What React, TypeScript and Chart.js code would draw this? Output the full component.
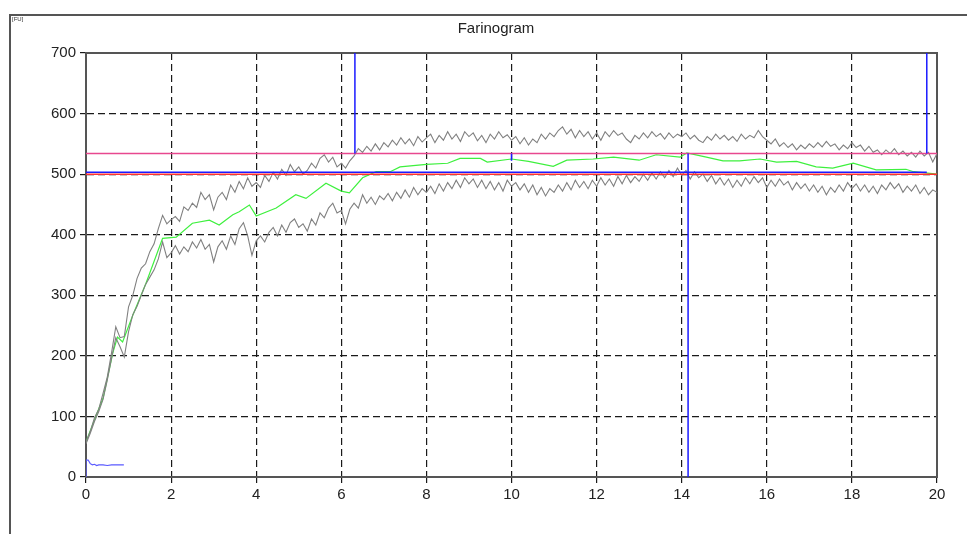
import React, { useEffect, useRef } from "react";
import { Chart, registerables } from "chart.js";

Chart.register(...registerables);

// ---- Data ----
const chartTitle = "Farinogram";
const unitLabel = "[FU]";
const xTicks = [0, 2, 4, 6, 8, 10, 12, 14, 16, 18, 20];
const yTicks = [0, 100, 200, 300, 400, 500, 600, 700];
const sampleStep = 0.1; // minutes between samples of the band curves

// upper envelope (gray), one value per 0.1 min, 0..20
const upperCurve = [
  58, 75, 98, 112, 138, 165, 205, 248, 230, 232,
  281, 300, 328, 345, 352, 372, 385, 410, 432, 418,
  425, 430, 422, 446, 440, 452, 445, 470, 458, 466,
  441, 462, 470, 458, 482, 470, 488, 476, 494, 480,
  486, 478, 498, 488, 503, 492, 508, 498, 516, 504,
  512, 500, 506, 518, 510, 526, 532, 520, 528, 512,
  518, 510, 522, 530, 542, 536, 546, 538, 550, 540,
  552, 545, 556, 548, 560, 550, 558, 547, 562, 553,
  560, 566, 552, 564, 556, 570, 558, 566, 554, 570,
  562, 568, 555, 564, 552, 566, 558, 570, 560, 565,
  556, 562, 550, 560, 548, 558, 552, 566, 558, 568,
  562, 572, 578, 566, 574, 560, 572, 562, 570, 558,
  568, 556, 570, 562, 572, 564, 568, 558, 552, 564,
  558, 568, 560, 570, 562, 567, 558, 568, 560, 566,
  562, 568, 558, 564, 556, 552, 562, 556, 566, 558,
  564, 556, 562, 554, 566, 558, 564, 560, 572, 562,
  556, 550, 558, 546, 552, 544, 550, 540, 548, 542,
  550, 544, 552, 545, 554, 546, 550, 540, 548, 542,
  552, 544, 548, 538, 546, 536, 540, 532, 540, 534,
  542, 532, 538, 530, 536, 528, 538, 530, 536, 520,
  534,
];

// lower envelope (gray)
const lowerCurve = [
  55, 72, 92, 108, 128, 160, 196, 230, 215, 198,
  240, 268, 282, 300, 318, 330, 342, 360, 388, 362,
  370, 382, 368, 380, 372, 388, 378, 392, 376, 384,
  355, 380, 390, 376, 398, 384, 410, 420, 398, 366,
  390, 398, 388, 404, 412, 398, 416, 404, 420, 426,
  412, 418, 406, 426, 416, 436, 428, 444, 452, 436,
  440, 418, 442, 452, 444, 466, 452, 462, 450, 464,
  458, 468, 456, 470, 460, 474, 462, 478, 466, 476,
  470, 480, 468, 484, 472, 486, 476, 490, 478, 494,
  484, 492, 478, 490, 476, 488, 474, 486, 472, 490,
  480, 486, 474, 484, 470, 482, 466, 478, 464, 476,
  470, 482, 472, 486, 474, 490, 478, 488, 476, 490,
  480, 494, 482, 492, 480, 496, 484, 498, 486, 496,
  488, 500, 490, 502, 492, 504, 494, 506, 496, 510,
  498, 506, 492, 504, 494, 500, 488, 498, 484, 494,
  482, 492, 478, 490, 480, 494, 484, 496, 486, 494,
  478, 490, 480, 492, 482, 488, 474, 486, 476, 484,
  472, 482, 470, 480, 466, 478, 470, 482, 472, 486,
  476, 484, 472, 482, 470, 480, 468, 482, 474, 486,
  476, 484, 470, 480, 472, 482, 468, 478, 466, 474,
  470,
];

// median curve (green)
const medianX = [
  0, 0.23, 0.4, 0.63, 0.74, 0.86, 1.1, 1.41, 1.8, 2.12, 2.5, 2.9, 3.13, 3.45,
  3.6, 3.84, 4.0, 4.47, 4.93, 5.17, 5.64, 6.0, 6.19, 6.5, 6.82, 7.15, 7.38,
  8.0, 8.5, 8.79, 9.27, 9.43, 10.0, 10.4, 10.98, 11.3, 11.92, 12.4, 13.0,
  13.4, 13.96, 14.12, 14.58, 14.97, 15.36, 15.84, 16.23, 16.7, 17.16, 17.55,
  18.03, 18.57, 19.27, 19.45, 20,
];
const medianY = [
  58, 100, 130, 205, 231, 223, 267, 320, 394, 396, 419, 424, 416, 433,
  438, 449, 431, 444, 466, 460, 485, 472, 469, 494, 504, 504, 512,
  516, 518, 526, 526, 520, 525, 521, 513, 523, 525, 528, 523,
  532, 528, 535, 528, 522, 522, 525, 520, 521, 512, 510,
  518, 507, 508, 504, 500,
];

// reference levels and markers
const consistencyLine = 500; // red
const bandLine = 503; // blue horizontal
const bandLineEnd = 19.76;
const upperBandLine = 534; // pink
const arrivalTime = 6.32;
const stabilityEndTime = 14.15;
const departureTime = 19.76;
const midMarkX = 10;
const midMarkY = [534, 522];

// small trace near origin (blue)
const startTraceX = [0, 0, 0.05, 0.1, 0.15, 0.2, 0.25, 0.3, 0.4, 0.5, 0.6, 0.7, 0.89];
const startTraceY = [0, 28, 28, 22, 20, 21, 19, 20, 20, 19, 20, 20, 20];

const X_MIN = 0;
const X_MAX = 20;
const Y_MIN = 0;
const Y_MAX = 700;

const FONT = "Arial, 'Liberation Sans', sans-serif";

function toPoints(xs: number[], ys: number[]) {
  return xs.map((x, i) => ({ x, y: ys[i] }));
}
function sampled(values: number[]) {
  return values.map((y, i) => ({ x: Math.round(i * sampleStep * 100) / 100, y }));
}

const framePlugin = {
  id: "frame",
  beforeDraw(chart: any) {
    const ctx = chart.ctx;
    ctx.save();
    ctx.fillStyle = "#ffffff";
    ctx.fillRect(0, 0, chart.width, chart.height);
    ctx.strokeStyle = "#555555";
    ctx.lineWidth = 2;
    ctx.beginPath();
    ctx.moveTo(chart.width, 15);
    ctx.lineTo(10, 15);
    ctx.lineTo(10, chart.height);
    ctx.stroke();
    ctx.fillStyle = "#333333";
    ctx.font = "6px " + FONT;
    ctx.textBaseline = "top";
    ctx.textAlign = "left";
    ctx.fillText(unitLabel, 12, 16);
    ctx.fillStyle = "#222222";
    ctx.font = "15px " + FONT;
    ctx.textAlign = "center";
    ctx.textBaseline = "middle";
    ctx.fillText(chartTitle, 496, 29);
    ctx.restore();
  },
  beforeDatasetsDraw(chart: any) {
    const { ctx, chartArea } = chart;
    ctx.save();
    ctx.strokeStyle = "#555555";
    ctx.lineWidth = 2;
    ctx.strokeRect(chartArea.left, chartArea.top, chartArea.right - chartArea.left, chartArea.bottom - chartArea.top);
    ctx.restore();
  },
};

export default function App() {
  const canvasRef = useRef<HTMLCanvasElement | null>(null);

  useEffect(() => {
    document.body.style.margin = "0";
    const canvas = canvasRef.current;
    if (!canvas) return;

    const seg = (xs: number[], ys: number[], color: string, width: number) => ({
      data: toPoints(xs, ys),
      borderColor: color,
      borderWidth: width,
      pointRadius: 0,
      fill: false,
      tension: 0,
    });

    const gridOpts = {
      color: "#1a1a1a",
      lineWidth: 1.2,
      tickLength: 6,
      tickColor: "#1a1a1a",
      tickBorderDash: [7, 4],
    };

    const chart = new Chart(canvas, {
      type: "line",
      data: {
        datasets: [
          seg([arrivalTime, arrivalTime], [upperBandLine, Y_MAX], "#1a1aff", 1.5),
          seg([stabilityEndTime, stabilityEndTime], [Y_MIN, upperBandLine], "#1a1aff", 1.5),
          seg([departureTime, departureTime], [upperBandLine, Y_MAX], "#1a1aff", 1.5),
          seg([midMarkX, midMarkX], midMarkY, "#1a1aff", 1.5),
          seg([X_MIN, bandLineEnd], [bandLine, bandLine], "#1a1aff", 1.5),
          seg([X_MIN, X_MAX], [consistencyLine, consistencyLine], "#ff3030", 1.5),
          seg([X_MIN, X_MAX], [upperBandLine, upperBandLine], "#e8488f", 1.5),
          {
            data: sampled(upperCurve),
            borderColor: "#808080",
            borderWidth: 1.1,
            pointRadius: 0,
            fill: false,
            tension: 0,
          },
          {
            data: sampled(lowerCurve),
            borderColor: "#808080",
            borderWidth: 1.1,
            pointRadius: 0,
            fill: false,
            tension: 0,
          },
          seg(medianX, medianY, "#3ef03e", 1.2),
          seg(startTraceX, startTraceY, "#5a5aff", 1.2),
        ],
      },
      options: {
        responsive: false,
        animation: false,
        events: [],
        layout: { padding: { left: 0, right: 30, top: 53, bottom: 0 } },
        plugins: {
          legend: { display: false },
          tooltip: { enabled: false },
          title: { display: false },
        },
        scales: {
          x: {
            type: "linear",
            min: X_MIN,
            max: X_MAX,
            afterFit: (scale: any) => {
              scale.height = 57;
            },
            afterBuildTicks: (scale: any) => {
              scale.ticks = xTicks.map((v) => ({ value: v }));
            },
            ticks: {
              color: "#222222",
              padding: 3,
              maxRotation: 0,
              font: { family: FONT, size: 15 },
            },
            grid: gridOpts,
            border: { display: true, color: "#555555", width: 2, dash: [7, 4] },
          },
          y: {
            type: "linear",
            min: Y_MIN,
            max: Y_MAX,
            afterFit: (scale: any) => {
              scale.width = 86;
            },
            afterBuildTicks: (scale: any) => {
              scale.ticks = yTicks.map((v) => ({ value: v }));
            },
            ticks: {
              color: "#222222",
              padding: 4,
              font: { family: FONT, size: 15 },
            },
            grid: gridOpts,
            border: { display: true, color: "#555555", width: 2, dash: [7, 4] },
          },
        },
      },
      plugins: [framePlugin],
    } as any);

    return () => {
      chart.destroy();
    };
  }, []);

  return (
    <div style={{ position: "fixed", left: 0, top: 0, width: 967, height: 534 }}>
      <canvas ref={canvasRef} width={967} height={534} />
    </div>
  );
}
